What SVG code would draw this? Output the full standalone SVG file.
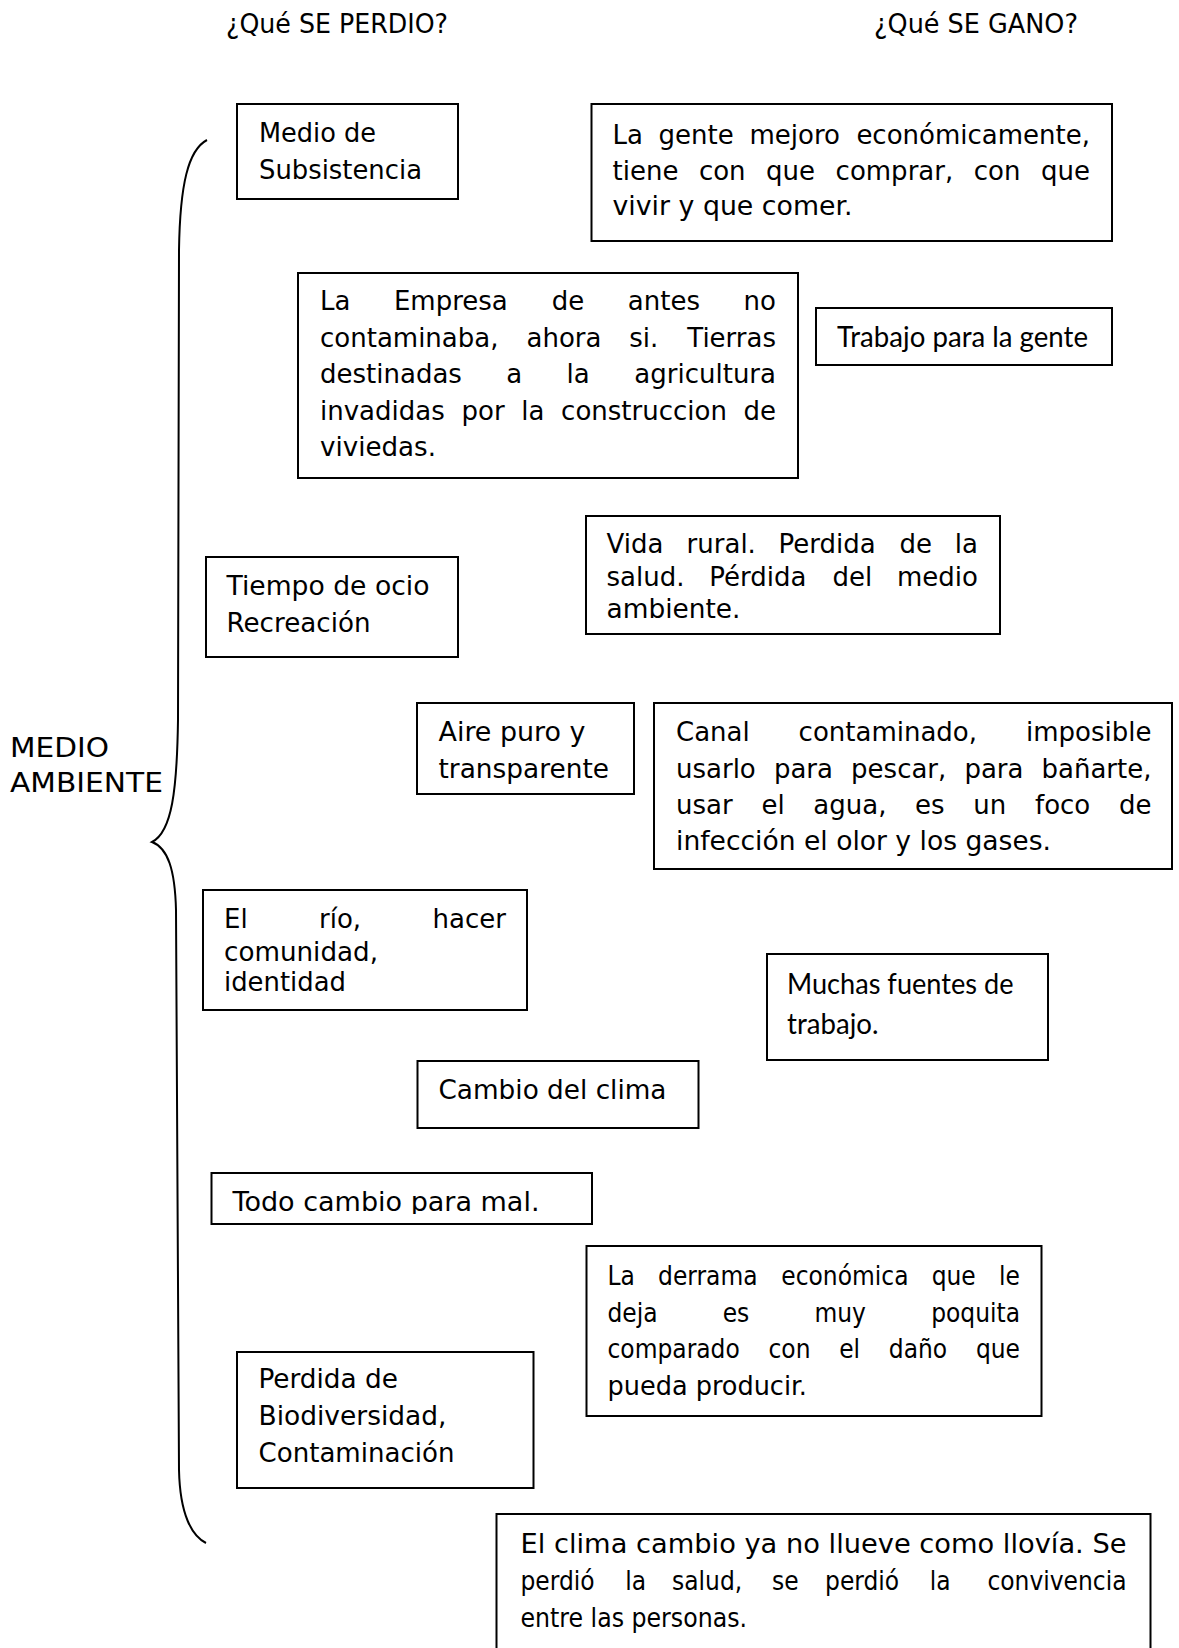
<svg xmlns="http://www.w3.org/2000/svg" width="1179" height="1648" viewBox="0 0 1179 1648">
<style>
.box{fill:#fff;stroke:#000;stroke-width:2}
.t{font-family:"DejaVu Sans",Verdana,sans-serif;font-size:26px;fill:#000}
.n{font-family:"DejaVu Sans Condensed","DejaVu Sans",sans-serif;font-size:26px;fill:#000}
.c{font-family:Lato,"Liberation Sans",sans-serif;font-size:28px;fill:#000}
.e{text-anchor:end}
.br{fill:none;stroke:#000;stroke-width:2}
</style>
<defs>
<clipPath id="clipTodo"><rect x="200" y="1160" width="400" height="54"/></clipPath>
</defs>
<rect width="1179" height="1648" fill="#fff"/>

<g id="headers">
<text class="n" x="226" y="33" textLength="222" lengthAdjust="spacingAndGlyphs">¿Qué SE PERDIO?</text>
<text class="n" x="874" y="33" textLength="204" lengthAdjust="spacingAndGlyphs">¿Qué SE GANO?</text>
</g>

<g id="medio-ambiente">
<text class="t" x="10" y="757" font-size="28" textLength="99" lengthAdjust="spacingAndGlyphs">MEDIO</text>
<text class="t" x="10" y="792" font-size="28" textLength="153" lengthAdjust="spacingAndGlyphs">AMBIENTE</text>
</g>

<g id="connectors">
<path class="br" d="M207 140 C188 150,180 185,179 250 L178 720 C177 790,172 832,152 842 C168 848,175 870,176 910 L179 1470 C180 1515,192 1536,206 1543"/>
</g>

<g id="n-medio-subsistencia">
<rect class="box" x="237" y="104" width="221" height="95"/>
<text class="t" x="259" y="142" textLength="117" lengthAdjust="spacingAndGlyphs">Medio de</text>
<text class="t" x="259" y="179" textLength="163" lengthAdjust="spacingAndGlyphs">Subsistencia</text>
</g>

<g id="n-la-gente">
<rect class="box" x="591.5" y="104" width="520.5" height="137"/>
<text class="t" y="144"><tspan x="612.5">La</tspan><tspan x="658.6">gente</tspan><tspan x="749.5">mejoro</tspan></text>
<text class="t e" y="144" x="1090">económicamente,</text>
<text class="t" y="180"><tspan x="612.5">tiene</tspan><tspan x="698.9">con</tspan><tspan x="766.1">que</tspan><tspan x="835.6">comprar,</tspan><tspan x="973.7">con</tspan></text>
<text class="t e" y="180" x="1090">que</text>
<text class="t" x="612.5" y="215" textLength="240" lengthAdjust="spacingAndGlyphs">vivir y que comer.</text>
</g>

<g id="n-empresa">
<rect class="box" x="298" y="273" width="500" height="205"/>
<text class="t" y="310"><tspan x="320">La</tspan><tspan x="393.9">Empresa</tspan><tspan x="551.8">de</tspan><tspan x="627.8">antes</tspan></text>
<text class="t e" y="310" x="776">no</text>
<text class="t" y="346.5"><tspan x="320">contaminaba,</tspan><tspan x="526.5">ahora</tspan><tspan x="629.3">si.</tspan></text>
<text class="t e" y="346.5" x="776">Tierras</text>
<text class="t" y="383"><tspan x="320">destinadas</tspan><tspan x="506.3">a</tspan><tspan x="566.6">la</tspan></text>
<text class="t e" y="383" x="776">agricultura</text>
<text class="t" y="419.5"><tspan x="320">invadidas</tspan><tspan x="461.5">por</tspan><tspan x="521.2">la</tspan><tspan x="561.1">construccion</tspan></text>
<text class="t e" y="419.5" x="776">de</text>
<text class="t" x="320" y="456" textLength="116" lengthAdjust="spacingAndGlyphs">viviedas.</text>
</g>

<g id="n-trabajo-gente">
<rect class="box" x="816" y="308" width="296" height="57"/>
<text class="c" x="837" y="346.5" textLength="251" lengthAdjust="spacingAndGlyphs">Trabajo para la gente</text>
</g>

<g id="n-vida-rural">
<rect class="box" x="586" y="516" width="414" height="118"/>
<text class="t" y="553"><tspan x="606.5">Vida</tspan><tspan x="686.6">rural.</tspan><tspan x="778.5">Perdida</tspan><tspan x="899.6">de</tspan></text>
<text class="t e" y="553" x="978">la</text>
<text class="t" y="586"><tspan x="606.5">salud.</tspan><tspan x="709.3">Pérdida</tspan><tspan x="832.6">del</tspan></text>
<text class="t e" y="586" x="978">medio</text>
<text class="t" x="606.5" y="618" textLength="134" lengthAdjust="spacingAndGlyphs">ambiente.</text>
</g>

<g id="n-tiempo-ocio">
<rect class="box" x="206" y="557" width="252" height="100"/>
<text class="t" x="226.5" y="595" textLength="203" lengthAdjust="spacingAndGlyphs">Tiempo de ocio</text>
<text class="t" x="226.5" y="631.5" textLength="144" lengthAdjust="spacingAndGlyphs">Recreación</text>
</g>

<g id="n-aire-puro">
<rect class="box" x="417" y="703" width="217" height="91"/>
<text class="t" x="438.5" y="740.5" textLength="147" lengthAdjust="spacingAndGlyphs">Aire puro y</text>
<text class="t" x="438.5" y="777.5" textLength="170.5" lengthAdjust="spacingAndGlyphs">transparente</text>
</g>

<g id="n-canal">
<rect class="box" x="654" y="703" width="518" height="166"/>
<text class="t" y="741"><tspan x="676">Canal</tspan><tspan x="798.6">contaminado,</tspan></text>
<text class="t e" y="741" x="1151.5">imposible</text>
<text class="t" y="777.5"><tspan x="676">usarlo</tspan><tspan x="773.9">para</tspan><tspan x="851.1">pescar,</tspan><tspan x="964.4">para</tspan></text>
<text class="t e" y="777.5" x="1151.5">bañarte,</text>
<text class="t" y="813.5"><tspan x="676">usar</tspan><tspan x="761.4">el</tspan><tspan x="813.3">agua,</tspan><tspan x="915.1">es</tspan><tspan x="973.3">un</tspan><tspan x="1035">foco</tspan></text>
<text class="t e" y="813.5" x="1151.5">de</text>
<text class="t" x="676" y="850" textLength="375" lengthAdjust="spacingAndGlyphs">infección el olor y los gases.</text>
</g>

<g id="n-rio">
<rect class="box" x="203" y="890" width="324" height="120"/>
<text class="t" y="928"><tspan x="224">El</tspan><tspan x="319">río,</tspan></text>
<text class="t e" y="928" x="506">hacer</text>
<text class="t" x="224" y="960.5" textLength="154" lengthAdjust="spacingAndGlyphs">comunidad,</text>
<text class="t" x="224" y="990.5" textLength="122" lengthAdjust="spacingAndGlyphs">identidad</text>
</g>

<g id="n-muchas-fuentes">
<rect class="box" x="767" y="954" width="281" height="106"/>
<text class="c" x="787" y="994" textLength="226.5" lengthAdjust="spacingAndGlyphs">Muchas fuentes de</text>
<text class="c" x="787" y="1034" textLength="91.5" lengthAdjust="spacingAndGlyphs">trabajo.</text>
</g>

<g id="n-cambio-clima">
<rect class="box" x="417.5" y="1061" width="281" height="67"/>
<text class="t" x="438.5" y="1099" textLength="228" lengthAdjust="spacingAndGlyphs">Cambio del clima</text>
</g>

<g id="n-todo-cambio">
<rect class="box" x="211.5" y="1173" width="380.5" height="51"/>
<text class="t" x="232.5" y="1210.5" textLength="307" lengthAdjust="spacingAndGlyphs" clip-path="url(#clipTodo)">Todo cambio para mal.</text>
</g>

<g id="n-derrama">
<rect class="box" x="586.5" y="1246" width="455" height="170"/>
<text class="n" y="1285"><tspan x="607.5">La</tspan><tspan x="658.1">derrama</tspan><tspan x="781.3">económica</tspan><tspan x="931.7">que</tspan></text>
<text class="n e" y="1285" x="1020">le</text>
<text class="n" y="1321.5"><tspan x="607.5">deja</tspan><tspan x="722.7">es</tspan><tspan x="814.4">muy</tspan></text>
<text class="n e" y="1321.5" x="1020">poquita</text>
<text class="n" y="1358"><tspan x="607.5">comparado</tspan><tspan x="768.5">con</tspan><tspan x="839.2">el</tspan><tspan x="888.8">daño</tspan></text>
<text class="n e" y="1358" x="1020">que</text>
<text class="n" x="607.5" y="1395" textLength="199.5" lengthAdjust="spacingAndGlyphs">pueda producir.</text>
</g>

<g id="n-perdida-biodiversidad">
<rect class="box" x="237" y="1352" width="296.5" height="136"/>
<text class="n" x="258.5" y="1388" textLength="139.5" lengthAdjust="spacingAndGlyphs">Perdida de</text>
<text class="n" x="258.5" y="1425" textLength="188" lengthAdjust="spacingAndGlyphs">Biodiversidad,</text>
<text class="n" x="258.5" y="1461.5" textLength="196" lengthAdjust="spacingAndGlyphs">Contaminación</text>
</g>

<g id="n-clima-cambio">
<rect class="box" x="496.5" y="1514" width="654" height="150"/>
<text class="n" x="520.5" y="1553" font-size="28" textLength="606" lengthAdjust="spacingAndGlyphs">El clima cambio ya no llueve como llovía. Se</text>
<text class="n" y="1590" font-size="28"><tspan x="520.5">perdió</tspan><tspan x="625.2">la</tspan><tspan x="672.1">salud,</tspan><tspan x="772.1">se</tspan><tspan x="825.1">perdió</tspan><tspan x="929.8">la</tspan></text>
<text class="n e" y="1590" x="1126.5" font-size="28">convivencia</text>
<text class="n" x="520.5" y="1627" font-size="28" textLength="226.5" lengthAdjust="spacingAndGlyphs">entre las personas.</text>
</g>
</svg>
